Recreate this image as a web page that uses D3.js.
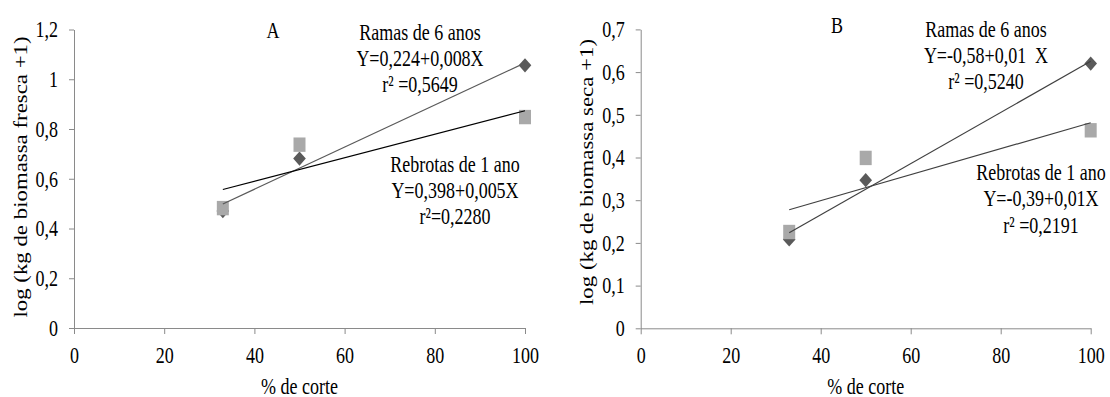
<!DOCTYPE html>
<html>
<head>
<meta charset="utf-8">
<script src="https://cdn.jsdelivr.net/npm/d3@7"></script>
<style>
  html, body { margin: 0; padding: 0; background: #fff; }
  svg { display: block; }
  text { font-family: "Liberation Serif", "Times New Roman", serif; fill: #000; }
</style>
</head>
<body>
<svg id="chart" width="1110" height="397"></svg>
<script>
// Cutting intensity (% de corte) at which biomass was measured
const cutPct = [33, 50, 100];
const xTicks = [0, 20, 40, 60, 80, 100];

// Panel A: log(kg fresh biomass + 1)
const freshRamas = [0.47, 0.681, 1.056];
const freshRebrotas = [0.482, 0.737, 0.848];
const freshTicks = [0, 0.2, 0.4, 0.6, 0.8, 1.0, 1.2];

// Panel B: log(kg dry biomass + 1)
const dryRamas = [0.208, 0.347, 0.62];
const dryRebrotas = [0.2255, 0.399, 0.4637];
const dryTicks = [0, 0.1, 0.2, 0.3, 0.4, 0.5, 0.6, 0.7];

const seriesNames = ["Ramas de 6 anos", "Rebrotas de 1 ano"];
const eqA = ["Y=0,224+0,008X", "Y=0,398+0,005X"];
const r2A = ["r\u00B2 =0,5649", "r\u00B2=0,2280"];
const eqB = ["Y=-0,58+0,01\u00A0\u00A0X", "Y=-0,39+0,01X"];
const r2B = ["r\u00B2 =0,5240", "r\u00B2 =0,2191"];

const svg = d3.select("#chart");
const STRETCH = 1.27;          // text is drawn slightly tall and narrow
const FONT = 18;
const ptFmt = d3.formatLocale({ decimal: ",", thousands: ".", grouping: [3], currency: ["", ""] }).format(".1~f");

// least-squares line through the plotted points
function fit(xs, ys) {
  const mx = d3.mean(xs), my = d3.mean(ys);
  const sxy = d3.sum(xs, (x, i) => (x - mx) * (ys[i] - my));
  const sxx = d3.sum(xs, x => (x - mx) * (x - mx));
  const b = sxy / sxx;
  return { a: my - b * mx, b };
}

function label(g, txt, x, y, anchor = "middle") {
  g.append("text")
    .attr("transform", `translate(${x},${y}) scale(1,${STRETCH})`)
    .attr("text-anchor", anchor)
    .style("font-size", FONT + "px")
    .text(txt);
}

function panel(cfg) {
  const g = svg.append("g");
  const x = d3.scaleLinear().domain([0, 100]).range(cfg.xr);
  const y = d3.scaleLinear().domain([0, cfg.yMax]).range(cfg.yr);

  const yAxis = g.append("g")
    .attr("transform", `translate(${cfg.xr[0]},0)`)
    .call(d3.axisLeft(y).tickValues(cfg.yTicks).tickFormat(ptFmt).tickSize(5).tickSizeOuter(0));
  const xAxis = g.append("g")
    .attr("transform", `translate(0,${cfg.yr[0]})`)
    .call(d3.axisBottom(x).tickValues(xTicks).tickSize(6).tickSizeOuter(0));

  [yAxis, xAxis].forEach(a => {
    a.selectAll("path, line").attr("stroke", "#8a8a8a").attr("stroke-width", 1);
    a.selectAll("text")
      .style("font-size", FONT + "px")
      .style("font-family", "'Liberation Serif', serif")
      .attr("fill", "#000");
  });
  yAxis.selectAll("text").attr("x", -16).attr("transform", `scale(1,${STRETCH})`);
  xAxis.selectAll("text").attr("y", 35 / STRETCH).attr("dy", 0).attr("transform", `scale(1,${STRETCH})`);

  // axis titles
  label(g, "% de corte", (cfg.xr[0] + cfg.xr[1]) / 2, 394);
  g.append("text")
    .attr("transform", `translate(${cfg.yTitleX},${cfg.yTitleY}) rotate(-90) scale(${STRETCH},1)`)
    .attr("text-anchor", "middle")
    .style("font-size", FONT + "px")
    .text(cfg.yTitle);

  // markers: diamonds first, squares on top
  const diamond = d3.symbol(d3.symbolSquare, 80)();
  const square = d3.symbol(d3.symbolSquare, 144)();
  g.append("g").selectAll("path").data(cfg.ramas).join("path")
    .attr("d", diamond)
    .attr("transform", (d, i) => `translate(${x(cutPct[i])},${y(d)}) scale(1,1.12) rotate(45)`)
    .attr("fill", "#5a5a5a");
  g.append("g").selectAll("path").data(cfg.rebrotas).join("path")
    .attr("d", square)
    .attr("transform", (d, i) => `translate(${x(cutPct[i])},${y(d)}) scale(1,1.2)`)
    .attr("fill", "#a9a9a9");

  // trend lines over the measured range
  const x0 = d3.min(cutPct), x1 = d3.max(cutPct);
  [[cfg.ramas, cfg.lineColors[0]], [cfg.rebrotas, cfg.lineColors[1]]].forEach(([ys, col]) => {
    const f = fit(cutPct, ys);
    g.append("line")
      .attr("x1", x(x0)).attr("y1", y(f.a + f.b * x0))
      .attr("x2", x(x1)).attr("y2", y(f.a + f.b * x1))
      .attr("stroke", col).attr("stroke-width", 1.2);
  });

  // panel letter and equations
  label(g, cfg.letter, cfg.letterPos[0], cfg.letterPos[1]);
  const lh = 26.3;
  [seriesNames[0], cfg.eq[0], cfg.r2[0]].forEach((t, i) => label(g, t, cfg.ramasPos[0], cfg.ramasPos[1] + i * lh));
  [seriesNames[1], cfg.eq[1], cfg.r2[1]].forEach((t, i) => label(g, t, cfg.rebrotasPos[0], cfg.rebrotasPos[1] + i * lh));
}

panel({
  xr: [74, 525], yr: [328, 29.5], yMax: 1.2, yTicks: freshTicks,
  ramas: freshRamas, rebrotas: freshRebrotas,
  lineColors: ["#5a5a5a", "#000"],
  yTitle: "log (kg de biomassa fresca +1)", yTitleX: 27, yTitleY: 177,
  letter: "A", letterPos: [273, 37.5],
  eq: eqA, r2: r2A,
  ramasPos: [420, 39.5], rebrotasPos: [455, 171.5]
});

panel({
  xr: [640.7, 1090.7], yr: [328.3, 29.4], yMax: 0.7, yTicks: dryTicks,
  ramas: dryRamas, rebrotas: dryRebrotas,
  lineColors: ["#404040", "#404040"],
  yTitle: "log (kg de biomassa seca +1)", yTitleX: 593, yTitleY: 172,
  letter: "B", letterPos: [837, 32.5],
  eq: eqB, r2: r2B,
  ramasPos: [986, 36.7], rebrotasPos: [1041, 180]
});
</script>
</body>
</html>
